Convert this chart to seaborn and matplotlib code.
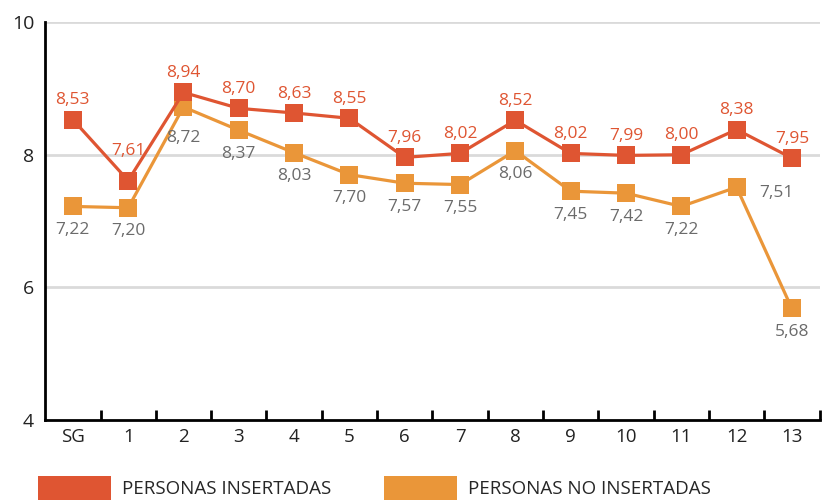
import matplotlib
matplotlib.use("Agg")
import matplotlib.pyplot as plt
from matplotlib.patches import Patch
from matplotlib.ticker import FixedLocator, NullFormatter
import seaborn as sns
import pandas as pd

categories = ["SG", "1", "2", "3", "4", "5", "6", "7", "8", "9", "10", "11", "12", "13"]
insertadas = [8.53, 7.61, 8.94, 8.70, 8.63, 8.55, 7.96, 8.02, 8.52, 8.02, 7.99, 8.00, 8.38, 7.95]
no_insertadas = [7.22, 7.20, 8.72, 8.37, 8.03, 7.70, 7.57, 7.55, 8.06, 7.45, 7.42, 7.22, 7.51, 5.68]
series_names = ["PERSONAS INSERTADAS", "PERSONAS NO INSERTADAS"]

RED = "#DF5532"
ORANGE = "#EA9639"
GREY_TXT = "#6B6B6B"

sns.set_theme(style="white")
plt.rcParams["font.family"] = ["Open Sans", "DejaVu Sans"]

pos = list(range(len(categories)))
df = pd.DataFrame({
    "pos": pos * 2,
    "value": insertadas + no_insertadas,
    "serie": [series_names[0]] * len(pos) + [series_names[1]] * len(pos),
})

fig = plt.figure(figsize=(8.22, 5.04), dpi=100)
ax = fig.add_axes([0.055, 0.167, 0.942, 0.789])

# grid lines behind the series
for g in (6, 8, 10):
    ax.axhline(g, color="#DADADA", lw=2, zorder=0)

sns.lineplot(data=df, x="pos", y="value", hue="serie", hue_order=series_names[::-1],
             palette={series_names[0]: RED, series_names[1]: ORANGE},
             marker="s", markersize=13, markeredgewidth=0, linewidth=2.3,
             legend=False, ax=ax, zorder=3)

def fmt(v):
    return f"{v:.2f}".replace(".", ",")

# value labels: upper series above, lower series below
for i, v in enumerate(insertadas):
    dy = 21 if i == 1 else 14
    ax.annotate(fmt(v), (i, v), xytext=(0, dy), textcoords="offset points",
                ha="center", va="center", color=RED, fontsize=12.5)
for i, v in enumerate(no_insertadas):
    dx, dy = 0, -17
    if i == 2:
        dy = -22
    if i == 12:
        dx, dy = 29, -4
    ax.annotate(fmt(v), (i, v), xytext=(dx, dy), textcoords="offset points",
                ha="center", va="center", color=GREY_TXT, fontsize=12.5)

ax.set_xlim(-0.5, len(categories) - 0.5)
ax.set_ylim(4, 10)
ax.set_yticks([4, 6, 8, 10])
ax.set_yticklabels(["4", "6", "8", "10"])

# ticks on category boundaries, labels at category centres
ax.xaxis.set_major_locator(FixedLocator([p + 0.5 for p in pos]))
ax.xaxis.set_major_formatter(NullFormatter())
ax.xaxis.set_minor_locator(FixedLocator(pos))
ax.set_xticklabels(categories, minor=True)
ax.tick_params(axis="x", which="major", direction="in", length=7, width=2, color="black", bottom=True)
ax.tick_params(axis="x", which="minor", length=0, pad=6, labelsize=13.5, labelcolor="#222222")
ax.tick_params(axis="y", length=0, pad=8, labelsize=14, labelcolor="#222222")

ax.set_xlabel("")
ax.set_ylabel("")
for s in ("top", "right"):
    ax.spines[s].set_visible(False)
for s in ("left", "bottom"):
    ax.spines[s].set_color("black")
    ax.spines[s].set_linewidth(2)

handles = [Patch(facecolor=RED, edgecolor="none", label=series_names[0]),
           Patch(facecolor=ORANGE, edgecolor="none", label=series_names[1])]
fig.legend(handles=handles, loc="upper left", bbox_to_anchor=(0.046, 0.056), ncol=2,
           frameon=False, fontsize=13.5, handlelength=3.9, handleheight=1.6,
           handletextpad=0.6, columnspacing=2.8, borderaxespad=0, borderpad=0)

fig.savefig("out.png", dpi=100)
